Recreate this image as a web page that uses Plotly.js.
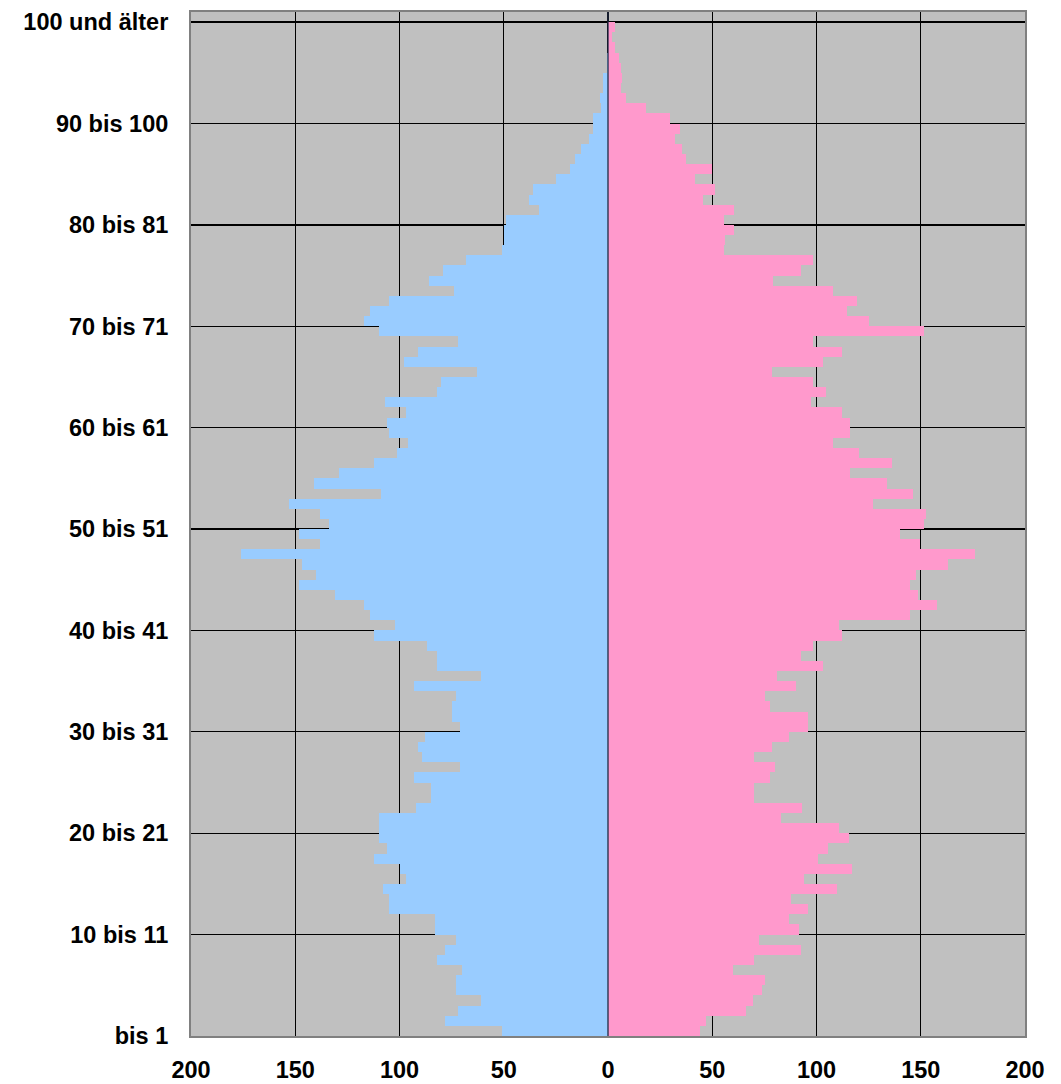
<!DOCTYPE html>
<html><head><meta charset="utf-8">
<script src="https://cdn.plot.ly/plotly-3.0.1.min.js"></script>
<style>html,body{margin:0;padding:0;background:#fff;overflow:hidden}</style>
</head><body>
<div id="chart" style="width:1061px;height:1084px"></div>
<script>
// Age group index: 0 = "bis 1", 1 = "1 bis 2", ..., 100 = "100 und älter"
const ageIndex = Array.from({length: 101}, (_, i) => i);

const maenner = [
  51, 78, 72, 61, 73, 73, 70, 82, 78, 73,
  83, 83, 105, 105, 108, 97, 100, 112, 106, 110,
  110, 110, 92, 85, 85, 93, 71, 89, 91, 88,
  71, 75, 75, 73, 93, 61, 82, 82, 87, 112,
  102, 114, 117, 131, 148, 140, 147, 176, 138, 148,
  134, 138, 153, 109, 141, 129, 112, 101, 96, 105,
  106, 97, 107, 82, 80, 63, 98, 91, 72, 110,
  117, 114, 105, 74, 86, 79, 68, 51, 50, 50,
  49, 33, 38, 36, 25, 18, 16, 13, 9, 7,
  7, 3.5, 4, 2.5, 2.5, 0.5, 0.5, 0, 0, 0,
  0
];

const frauen = [
  44, 47, 66, 69.5, 74, 75.5, 60, 70, 92.5, 72.5,
  91.5, 87, 96, 88, 110, 94, 117, 100.5, 105.5, 115.5,
  111, 83, 93, 70, 70, 77.5, 80, 70, 78.5, 87,
  96, 96, 77.5, 75.5, 90, 81, 103, 92.5, 98.5, 112,
  111, 145, 158, 148.5, 145, 147.5, 163, 176, 149.5, 140,
  151.5, 152.5, 127, 146.5, 134, 116, 136, 120.5, 108, 116,
  116, 112, 97.5, 104.5, 98.5, 78.5, 103, 112, 98.5, 151.5,
  125, 114.5, 119.5, 108, 79, 92.5, 98.5, 55.5, 56, 60.5,
  55.5, 60.5, 45.5, 51.5, 41.5, 50, 37.5, 35.5, 32, 34.5,
  29.5, 18, 8.5, 6, 6.5, 6, 5.5, 3.5, 2, 3.5,
  0
];

const yTickPos = [-0.5, 9.5, 19.5, 29.5, 39.5, 49.5, 59.5, 69.5, 79.5, 89.5, 99.5];
const yTickText = ['bis 1', '10 bis 11', '20 bis 21', '30 bis 31', '40 bis 41', '50 bis 51',
                   '60 bis 61', '70 bis 71', '80 bis 81', '90 bis 100', '100 und älter'];
const xTickPos = [-200, -150, -100, -50, 0, 50, 100, 150, 200];
const xTickText = ['200', '150', '100', '50', '0', '50', '100', '150', '200'];

const tickFont = {family: 'Liberation Sans, Arial, sans-serif', size: 23.5, color: '#000', weight: 'bold'};

const traces = [
  {
    type: 'bar', orientation: 'h', name: 'Männer',
    y: ageIndex, x: maenner.map(v => -v),
    marker: {color: '#99CCFF', line: {width: 0}},
    width: 1, hoverinfo: 'skip'
  },
  {
    type: 'bar', orientation: 'h', name: 'Frauen',
    y: ageIndex, x: frauen,
    marker: {color: '#FF99CC', line: {width: 0}},
    width: 1, hoverinfo: 'skip'
  }
];

const layout = {
  width: 1061, height: 1084,
  margin: {l: 191, r: 36, t: 12, b: 48},
  paper_bgcolor: '#FFFFFF',
  plot_bgcolor: '#C0C0C0',
  barmode: 'overlay',
  bargap: 0,
  showlegend: false,
  xaxis: {
    range: [-200, 200],
    tickmode: 'array', tickvals: xTickPos, ticktext: xTickText,
    showgrid: true, gridcolor: '#000000', gridwidth: 1.3,
    zeroline: false,
    showline: true, mirror: true, linecolor: '#808080', linewidth: 2,
    ticks: '', ticklabelstandoff: 12,
    tickfont: tickFont, fixedrange: true
  },
  yaxis: {
    range: [-0.5, 100.5],
    tickmode: 'array', tickvals: yTickPos, ticktext: yTickText,
    showgrid: true, gridcolor: '#000000', gridwidth: 1.3,
    zeroline: false,
    showline: true, mirror: true, linecolor: '#808080', linewidth: 2,
    ticks: '', ticklabelstandoff: 16,
    tickfont: tickFont, fixedrange: true
  },
  shapes: [
    {type: 'line', xref: 'x', yref: 'paper', x0: 0, x1: 0, y0: 0, y1: 1,
     line: {color: '#1F2A44', width: 1.3}, layer: 'above'}
  ]
};

Plotly.newPlot('chart', traces, layout, {displayModeBar: false, staticPlot: true});
</script>
</body></html>
